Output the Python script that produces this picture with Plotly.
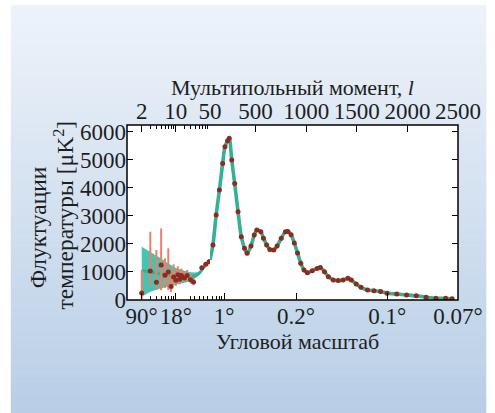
import numpy as np
import plotly.graph_objects as go

# ---------------- data ----------------
# theory curve, low-l part
theory_low_l = [2, 3, 4, 5, 7, 10, 15, 20, 25, 30, 35, 40, 45, 50]
theory_low_D = [1040, 1000, 960, 930, 880, 840, 820, 825, 870, 950, 1100, 1230, 1320, 1430]

# cosmic-variance band (low l)
band_l = [2, 3, 5, 7, 10, 15, 20, 25, 30, 35]
band_upper = [1900, 1720, 1480, 1300, 1140, 1040, 990, 980, 1010, 1120]
band_lower = [120, 290, 420, 480, 530, 610, 670, 770, 890, 1080]

# low-l measured points with asymmetric error bars
low_l = [2, 3, 4, 5, 6, 7, 8, 9, 10, 11, 12, 13, 15, 17, 20, 23, 34, 41, 48]
low_D = [250, 1030, 630, 1250, 880, 1000, 480, 820, 700, 900, 740, 870, 780, 870, 720, 640, 1150, 1270, 1365]
low_err_plus = [820, 1400, 1150, 1300, 600, 840, 450, 450, 350, 300, 280, 250, 220, 200, 180, 150, 60, 50, 40]
low_err_minus = [230, 500, 280, 900, 450, 640, 200, 250, 200, 200, 180, 180, 150, 150, 130, 120, 60, 50, 40]

# high-l measured points
high_l = [79, 111, 143, 175, 198, 224, 240, 265, 294, 327, 359, 391, 417, 455, 487, 513,
          552, 578, 610, 641, 680, 713, 754, 796, 819, 851, 883, 915, 947, 979, 1012,
          1060, 1108, 1140, 1181, 1220, 1268, 1317, 1365, 1413, 1446, 1494, 1542, 1606,
          1670, 1735, 1799, 1895, 1992, 2088, 2185, 2281, 2378, 2442]
high_D = [1960, 3030, 3915, 4860, 5460, 5670, 5760, 4985, 4150, 3145, 2255, 1840, 1660, 1920, 2310, 2490,
          2430, 2195, 1960, 1800, 1780, 1920, 2195, 2430, 2440, 2325, 2030, 1675, 1305, 1065, 970,
          1040, 1125, 1160, 1005, 830, 710, 690, 710, 770, 710, 570, 450, 355,
          330, 300, 240, 210, 180, 150, 100, 60, 60, 45]

# axis tick labels
top_log_ticks = [2, 10, 50]
top_lin_ticks = [500, 1000, 1500, 2000, 2500]
bot_log_ticks = [2, 10]
bot_log_text = ["90°", "18°"]
bot_lin_ticks = [190, 900, 1800, 2500]
bot_lin_text = ["1°", "0.2°", "0.1°", "0.07°"]
y_ticks = [0, 1000, 2000, 3000, 4000, 5000, 6000]

# ---------------- layout geometry ----------------
W, H = 495, 413
L, R, T, B = 127, 466, 125, 300
PW, PH = R - L, B - T
SPLIT = 212
D = (SPLIT - L) / PW


def px(x):
    return (x - L) / PW


def py(y):
    return (B - y) / PH


FONT = "Liberation Serif, Times New Roman, serif"
TXT = "#1e1e1e"
TEAL_LINE = "#33b195"
BAND = "rgba(48,190,168,0.9)"
DOT = "#8e2a1e"
ERR = "#ee7f68"

fig = go.Figure()

# band
fig.add_trace(go.Scatter(x=band_l, y=band_lower, mode="lines", line=dict(width=0, color=BAND),
                         xaxis="x", yaxis="y", hoverinfo="skip"))
fig.add_trace(go.Scatter(x=band_l, y=band_upper, mode="lines", line=dict(width=0, color=BAND),
                         fill="tonexty", fillcolor=BAND, xaxis="x", yaxis="y", hoverinfo="skip"))

# theory line: low (log axis) and high (linear axis)
th_l = np.array(theory_low_l + high_l, dtype=float)
th_D = np.array(theory_low_D + high_D, dtype=float)
m_lo = th_l <= 50
hi_l = np.concatenate([[theory_low_l[-1]], th_l[~m_lo]])
hi_D = np.concatenate([[theory_low_D[-1]], th_D[~m_lo]])
fig.add_trace(go.Scatter(x=th_l[m_lo], y=th_D[m_lo], mode="lines",
                         line=dict(color=TEAL_LINE, width=3, shape="spline", smoothing=0.8),
                         xaxis="x", yaxis="y"))
fig.add_trace(go.Scatter(x=hi_l, y=hi_D, mode="lines",
                         line=dict(color=TEAL_LINE, width=3.6, shape="spline", smoothing=0.8),
                         xaxis="x2", yaxis="y"))

# low-l points
fig.add_trace(go.Scatter(x=low_l, y=low_D, mode="markers",
                         marker=dict(color=DOT, size=5),
                         error_y=dict(type="data", symmetric=False, array=low_err_plus,
                                      arrayminus=low_err_minus, color=ERR, thickness=2, width=0),
                         xaxis="x", yaxis="y"))
# high-l points
fig.add_trace(go.Scatter(x=high_l, y=high_D, mode="markers",
                         marker=dict(color=DOT, size=5),
                         xaxis="x2", yaxis="y"))

# dummy traces to register overlay axes
fig.add_trace(go.Scatter(x=[None], y=[None], xaxis="x3", yaxis="y", hoverinfo="skip"))
fig.add_trace(go.Scatter(x=[None], y=[None], xaxis="x4", yaxis="y", hoverinfo="skip"))
fig.add_trace(go.Scatter(x=[None], y=[None], xaxis="x2", yaxis="y2", hoverinfo="skip"))

tickfont = dict(family=FONT, size=23, color=TXT)
common = dict(showgrid=False, zeroline=False, showline=False, ticks="inside",
              tickcolor="black", tickwidth=1.2, tickfont=tickfont, tickangle=0)

shapes = []
# gradient background panel
x0p, x1p = px(8), px(W)
n = 90
top_c = np.array([238, 243, 250])
bot_c = np.array([184, 206, 230])
y_top, y_bot = 5, H
for i in range(n):
    ya = y_top + (y_bot - y_top) * i / n
    yb = y_top + (y_bot - y_top) * (i + 1) / n + 0.6
    t = (i + 0.5) / n
    c = top_c + (bot_c - top_c) * t
    shapes.append(dict(type="rect", xref="paper", yref="paper", x0=x0p, x1=x1p,
                       y0=py(yb), y1=py(ya), line=dict(width=0),
                       fillcolor="rgb(%d,%d,%d)" % tuple(c.round().astype(int)), layer="below"))
# white plot area
shapes.append(dict(type="rect", xref="paper", yref="paper", x0=0, x1=1, y0=0, y1=1,
                   line=dict(width=0), fillcolor="white", layer="below"))
# frame
shapes.append(dict(type="rect", xref="paper", yref="paper", x0=0, x1=1, y0=0, y1=1,
                   line=dict(width=1.5, color="black"), fillcolor="rgba(0,0,0,0)", layer="above"))

annotations = [
    dict(x=px(297), y=py(87), xref="paper", yref="paper", showarrow=False,
         text="Мультипольный момент, <i>l</i>", font=dict(family=FONT, size=22, color=TXT),
         xanchor="center", yanchor="middle"),
    dict(x=px(302), y=py(341), xref="paper", yref="paper", showarrow=False,
         text="Угловой масштаб", font=dict(family=FONT, size=22, color=TXT),
         xanchor="center", yanchor="middle"),
    dict(x=px(36), y=py(227), xref="paper", yref="paper", showarrow=False, textangle=-90,
         text="Флуктуации", font=dict(family=FONT, size=23.5, color=TXT),
         xanchor="center", yanchor="middle"),
    dict(x=px(62), y=py(215), xref="paper", yref="paper", showarrow=False, textangle=-90,
         text="температуры [μK<sup>2</sup>]", font=dict(family=FONT, size=23.5, color=TXT),
         xanchor="center", yanchor="middle"),
]

fig.update_layout(
    width=W, height=H,
    margin=dict(l=L, r=W - R, t=T, b=H - B, pad=0),
    paper_bgcolor="white", plot_bgcolor="rgba(0,0,0,0)",
    showlegend=False,
    xaxis=dict(type="log", domain=[0, D], range=[0, np.log10(50)], anchor="y",
               tickmode="array", tickvals=bot_log_ticks, ticktext=bot_log_text, ticklen=7,
               minor=dict(tickmode="array", tickvals=[3, 4, 5, 6, 7, 8, 9, 20, 24, 30, 36, 45],
                          ticks="inside", ticklen=4, tickcolor="black", tickwidth=1),
               **common),
    xaxis2=dict(type="linear", domain=[D, 1], range=[50, 2500], anchor="y",
                tickmode="array", tickvals=bot_lin_ticks, ticktext=bot_lin_text, ticklen=7,
                minor=dict(tickmode="array", tickvals=[72, 117, 143, 166],
                           ticks="inside", ticklen=4, tickcolor="black", tickwidth=1),
                **common),
    xaxis3=dict(type="log", overlaying="x", side="top", range=[0, np.log10(50)], anchor="y",
                tickmode="array", tickvals=top_log_ticks, ticktext=[str(v) for v in top_log_ticks],
                ticklen=7,
                minor=dict(tickmode="array",
                           tickvals=[3, 4, 5, 6, 7, 8, 9, 15, 20, 25, 30, 35, 40, 45],
                           ticks="inside", ticklen=4, tickcolor="black", tickwidth=1),
                **common),
    xaxis4=dict(type="linear", overlaying="x2", side="top", range=[50, 2500], anchor="y",
                tickmode="array", tickvals=top_lin_ticks, ticktext=[str(v) for v in top_lin_ticks],
                ticklen=7, **common),
    yaxis=dict(range=[0, 6230], anchor="x", tickmode="array", tickvals=y_ticks, ticklen=6,
               **common),
    yaxis2=dict(range=[0, 6230], overlaying="y", side="right", anchor="x2", tickmode="array",
                tickvals=y_ticks, ticklen=6, showticklabels=False,
                showgrid=False, zeroline=False, showline=False, ticks="inside",
                tickcolor="black", tickwidth=1.2),
    shapes=shapes,
    annotations=annotations,
)

fig.write_html("out.html")
